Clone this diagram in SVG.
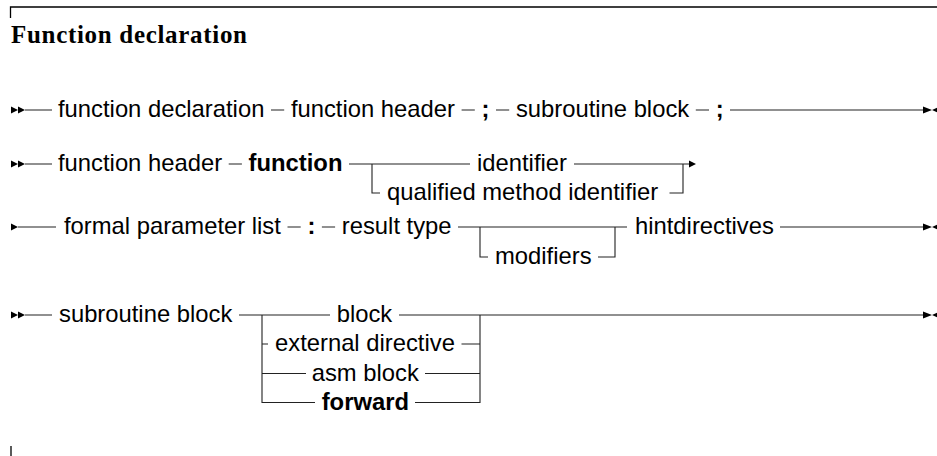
<svg xmlns="http://www.w3.org/2000/svg" width="937" height="456" viewBox="0 0 937 456">
<style>
.t{font-family:"Liberation Sans",Arial,Helvetica,sans-serif;font-size:23.8px;fill:#000}
.b{font-weight:bold}
.h{font-family:"Liberation Serif","Times New Roman",serif;font-size:25px;font-weight:bold;fill:#000}
.c{stroke:#222;stroke-width:1.1;fill:none}
.f{stroke:#000;stroke-width:1.3;fill:none}
.m{fill:#000}
</style>
<defs>
<path id="a" d="M0,-3.5 L7,0 L0,3.5 Z"/>
<path id="e" d="M0,-3.5 L9,0 L0,3.5 Z M9,0 L17,-3.5 L17,3.5 Z"/>
</defs>
<g id="frame">
<path class="f" d="M10.5,18 V7 H937"/>
<path class="f" d="M11,446 V456"/>
<text id="title" class="h" x="11" y="43" textLength="236" lengthAdjust="spacing">Function declaration</text>
</g>
<g id="connectors">
<!-- row 1 -->
<use href="#a" class="m" x="11" y="110"/><use href="#a" class="m" x="18" y="110"/>
<path class="c" d="M25,110 H52 M271,110 H284.2 M461.6,110 H474.8 M496,110 H509.2 M695.8,110 H709 M730,110 H923"/>
<use href="#e" class="m" x="923" y="110"/>
<!-- row 2 -->
<use href="#a" class="m" x="11" y="164"/><use href="#a" class="m" x="18" y="164"/>
<path class="c" d="M25,164 H52 M228.7,164 H241.9 M349,164 H470 M372,164 V193 H380 M574,164 H689 M669.5,193 H683 V164"/>
<use href="#a" class="m" x="689" y="164"/>
<!-- row 3 -->
<use href="#a" class="m" x="11" y="227"/>
<path class="c" d="M18,227 H56 M287.5,227 H300.7 M321.9,227 H335.1 M458,227 H627 M480,227 V257 H488 M598,257 H615 V227 M780,227 H923"/>
<use href="#e" class="m" x="923" y="227"/>
<!-- row 4 -->
<use href="#a" class="m" x="11" y="315"/><use href="#a" class="m" x="18" y="315"/>
<path class="c" d="M25,315 H52 M239,315 H330 M399,315 H923 M262,315 V402.5 H315 M262,344 H268 M262,373.5 H306 M480,315 V402.5 H415 M461.5,344 H480 M425,373.5 H480"/>
<use href="#e" class="m" x="923" y="315"/>
</g>
<g id="n-function-declaration"><text class="t" x="58" y="117">function declaration</text></g>
<g id="n-function-header-ref"><text class="t" x="290.9" y="117">function header</text></g>
<g id="n-semicolon-1"><text class="t b" x="481.5" y="117">;</text></g>
<g id="n-subroutine-block-ref"><text class="t" x="515.9" y="117">subroutine block</text></g>
<g id="n-semicolon-2"><text class="t b" x="715.7" y="117">;</text></g>
<g id="n-function-header"><text class="t" x="58" y="171">function header</text></g>
<g id="n-function-kw"><text class="t b" x="248.6" y="171">function</text></g>
<g id="n-identifier"><text class="t" x="477" y="171">identifier</text></g>
<g id="n-qualified"><text class="t" x="387" y="200">qualified method identifier</text></g>
<g id="n-formal"><text class="t" x="64" y="234">formal parameter list</text></g>
<g id="n-colon"><text class="t b" x="307.4" y="234">:</text></g>
<g id="n-result-type"><text class="t" x="341.8" y="234">result type</text></g>
<g id="n-modifiers"><text class="t" x="495" y="264">modifiers</text></g>
<g id="n-hintdirectives"><text class="t" x="635" y="234">hintdirectives</text></g>
<g id="n-subroutine-block"><text class="t" x="59" y="322">subroutine block</text></g>
<g id="n-block"><text class="t" x="336.7" y="322">block</text></g>
<g id="n-external"><text class="t" x="275" y="351">external directive</text></g>
<g id="n-asm"><text class="t" x="311.7" y="380.5">asm block</text></g>
<g id="n-forward"><text class="t b" x="321.7" y="409.5">forward</text></g>
</svg>
